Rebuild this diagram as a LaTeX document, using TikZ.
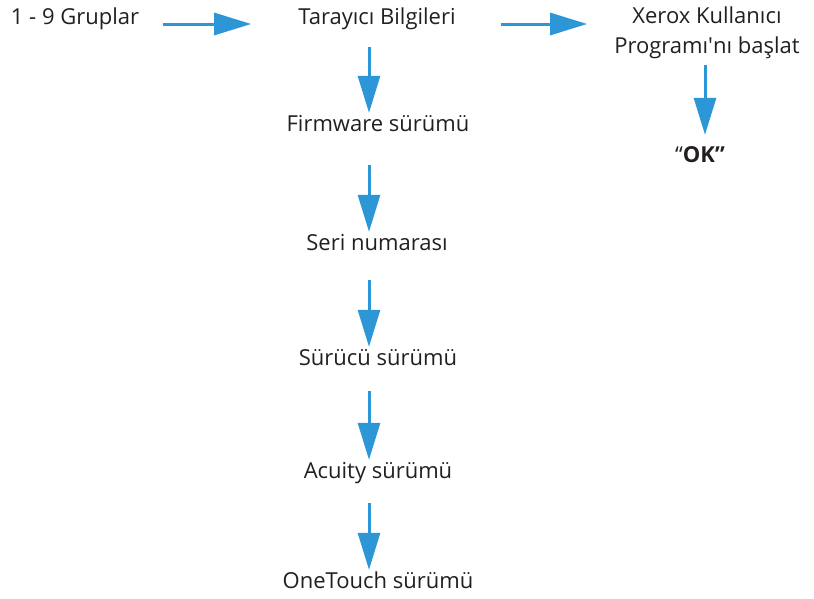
\documentclass[tikz,border=0pt]{standalone}
\usepackage{fontspec}
\setmainfont{Open Sans}
\usetikzlibrary{arrows.meta}
\definecolor{flowblue}{RGB}{44,150,214}
\definecolor{inkgray}{RGB}{35,31,32}

\begin{document}
\begin{tikzpicture}[x=1pt,y=-1pt,
    lbl/.style={anchor=base,inner sep=0pt,text height=16pt,text depth=5pt,
      font=\fontsize{22}{30}\selectfont,text=inkgray},
    flow/.style={draw=flowblue,line width=3pt,
      -{Triangle[length=37pt,width=22pt]},shorten >=2pt}]
                \useasboundingbox (0,0) rectangle (814,598);
                \node [lbl] (grp) at (75,24) {1 - 9 Gruplar};
                \node [lbl] (tar) at (377,24) {Tarayıcı Bilgileri};
                \node [lbl,text height={},text depth={},align=center,anchor=north] (xer) at (707,7) {Xerox Kullanıcı\\Programı\textquotesingle nı başlat};
                \node [lbl] (ok) at (700,162) {“\textbf{OK”}};
                \node [lbl] (fw) at (378,131) {Firmware sürümü};
                \node [lbl] (seri) at (377,250) {Seri numarası};
                \node [lbl] (sur) at (378,365) {Sürücü sürümü};
                \node [lbl] (acu) at (378,478) {Acuity sürümü};
                \node [lbl] (one) at (378,588) {OneTouch sürümü};
                \draw [flow,shorten <=24pt,shorten >=47pt] (grp.base east) -- (tar.base west);
                \draw [flow,shorten <=45pt,shorten >=27pt] (tar.base east) -- (tar.base east -| xer.west);
                \draw [flow,shorten <=18pt] (tar.south -| 369,0) -- (fw.north -| 369,0);
                \draw [flow,shorten <=29pt] (fw.south -| 369,0) -- (seri.north -| 369,0);
                \draw [flow,shorten <=25pt] (seri.south -| 369,0) -- (sur.north -| 369,0);
                \draw [flow,shorten <=21pt] (sur.south -| 369,0) -- (acu.north -| 369,0);
                \draw [flow,shorten <=20pt] (acu.south -| 369,0) -- (one.north -| 369,0);
                \draw [flow,shorten <=6pt,shorten >=11pt] (xer.south -| 705,0) -- (ok.north -| 705,0);
\end{tikzpicture}
\end{document}
